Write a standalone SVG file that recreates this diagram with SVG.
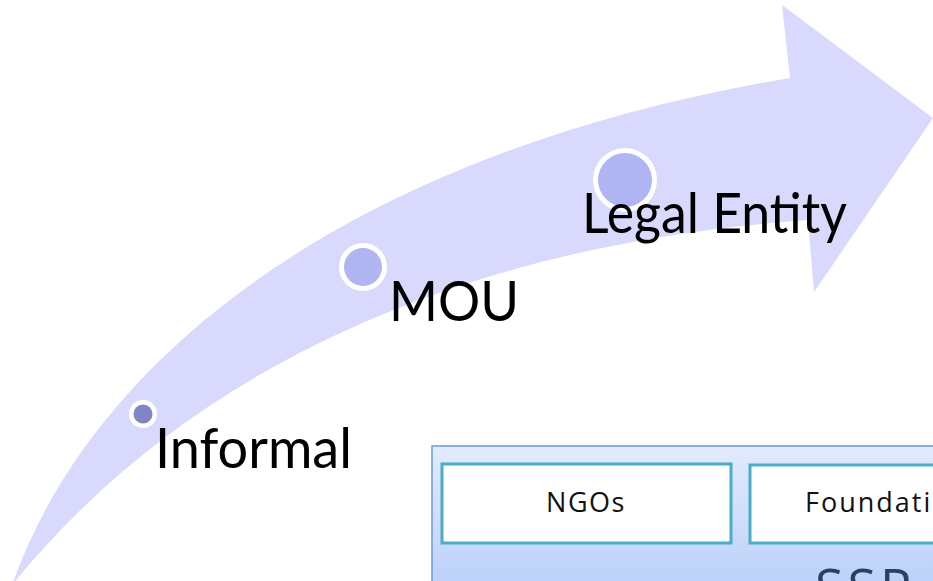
<svg xmlns="http://www.w3.org/2000/svg" width="933" height="581" viewBox="0 0 933 581">
  <defs>
    <linearGradient id="panelGrad" x1="0" y1="0" x2="0" y2="1">
      <stop offset="0" stop-color="#e2ebfd"/>
      <stop offset="1" stop-color="#b6cdf9"/>
    </linearGradient>
    <style>
      .stage { font-family: Lato, "Open Sans", "Liberation Sans", sans-serif; font-size: 57px; fill: #000; }
      .ring { fill: #ffffff; }
      .dot { fill: #b1b5f4; }
      .card { fill: #ffffff; stroke: #4bacc6; stroke-width: 3; }
      .cardText { font-family: "Open Sans", "Liberation Sans", sans-serif; fill: #111; }
    </style>
  </defs>
  <rect width="933" height="581" fill="#ffffff"/>

  <g id="connectors">
    <path id="progress-arrow" fill="#d8d9fd"
      d="M 12,585 C 95,350 360,150 790,78 L 782,5 L 933,118 L 814,292 L 808,220 C 520,240 215,335 12,585 Z"/>
  </g>

  <g id="node-informal">
    <circle class="ring" cx="143" cy="414" r="14"/>
    <circle cx="143" cy="414" r="9.5" fill="#8284c8"/>
    <text class="stage" x="155" y="468" textLength="197" lengthAdjust="spacingAndGlyphs">Informal</text>
  </g>

  <g id="node-mou">
    <circle class="ring" cx="363" cy="267" r="24"/>
    <circle class="dot" cx="363" cy="267" r="19"/>
    <text class="stage" x="389" y="321" textLength="130" lengthAdjust="spacingAndGlyphs">MOU</text>
  </g>

  <g id="node-legal-entity">
    <circle class="ring" cx="625" cy="180" r="32"/>
    <circle class="dot" cx="625" cy="180" r="27"/>
    <text class="stage" x="582" y="233" textLength="265" lengthAdjust="spacingAndGlyphs">Legal Entity</text>
  </g>

  <g id="node-panel">
    <rect x="432" y="446" width="520" height="160" fill="url(#panelGrad)" stroke="#6f9bd6" stroke-width="1.5"/>
    <text x="815" y="606" font-family="'Open Sans', 'Liberation Sans', sans-serif" font-size="52" fill="#2b3f5e" letter-spacing="4">SSR</text>
  </g>

  <g id="node-ngos">
    <rect class="card" x="442" y="464" width="289" height="79"/>
    <text class="cardText" x="586" y="512" font-size="27" text-anchor="middle" letter-spacing="1.5">NGOs</text>
  </g>

  <g id="node-foundations">
    <rect class="card" x="750" y="465" width="220" height="78"/>
    <text class="cardText" x="805" y="512" font-size="27" letter-spacing="2">Foundati</text>
  </g>
</svg>
